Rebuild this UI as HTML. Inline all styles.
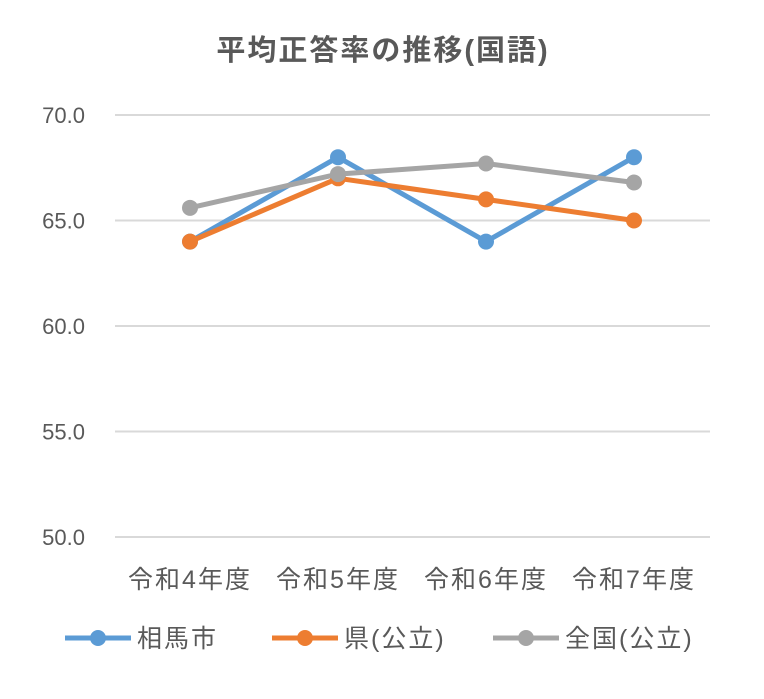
<!DOCTYPE html>
<html><head><meta charset="utf-8"><style>
body{margin:0;background:#fff;}
svg text{font-family:"Liberation Sans","Noto Sans CJK JP",sans-serif;}
</style></head><body>
<svg id="chart" width="764" height="694" xmlns="http://www.w3.org/2000/svg">
<rect width="764" height="694" fill="#fff"/>
<text x="383" y="60" text-anchor="middle" font-size="29" font-weight="bold" letter-spacing="2" fill="#595959">平均正答率の推移(国語)</text>
<g id="grid"></g><g id="series"></g><g id="legend"></g>
</svg>
<script>
const categories=["令和4年度","令和5年度","令和6年度","令和7年度"];
const ticks=[50,55,60,65,70];
const tickLabels=["50.0","55.0","60.0","65.0","70.0"];
const seriesNames=["相馬市","県(公立)","全国(公立)"];
const soma=[64,68,64,68];
const ken=[64,67,66,65];
const zenkoku=[65.6,67.2,67.7,66.8];
const colors=["#5b9bd5","#ed7d31","#a5a5a5"];
const NS="http://www.w3.org/2000/svg";
const y=v=>537-(v-50)*(537-115)/20;
const x=i=>190+i*148;
function mk(t,a,p){const e=document.createElementNS(NS,t);for(const k in a)e.setAttribute(k,a[k]);p.appendChild(e);return e;}
const grid=document.getElementById('grid');
ticks.forEach((t,i)=>{
 const l=mk('line',{x1:115,x2:710,y1:y(t),y2:y(t),stroke:'#d9d9d9','stroke-width':2},grid);
 
 
 const tx=mk('text',{x:85,y:y(t)+8,'text-anchor':'end','font-size':22,fill:'#595959'},grid);
 tx.textContent=tickLabels[i];
 
 
});
categories.forEach((c,i)=>{
 const tx=mk('text',{x:x(i),y:588,'text-anchor':'middle','font-size':25,'letter-spacing':2,fill:'#595959'},grid);
 tx.textContent=c;
 
 
});
const sg=document.getElementById('series');
[soma,ken,zenkoku].forEach((d,s)=>{
 const g=mk('g',{},sg);
 
 
 mk('polyline',{points:d.map((v,i)=>x(i)+','+y(v)).join(' '),fill:'none',stroke:colors[s],'stroke-width':5,'stroke-linejoin':'round'},g);
 d.forEach((v,i)=>{
  const c=mk('circle',{cx:x(i),cy:y(v),r:8,fill:colors[s]},g);
  
  
 });
});
const lg=document.getElementById('legend');
const lx=[65,272,493];
seriesNames.forEach((n,s)=>{
 const g=mk('g',{},lg);
 
 
 mk('line',{x1:lx[s],x2:lx[s]+66,y1:638,y2:638,stroke:colors[s],'stroke-width':5},g);
 mk('circle',{cx:lx[s]+33,cy:638,r:8,fill:colors[s]},g);
 const t=mk('text',{x:lx[s]+72,y:647,'font-size':25,'letter-spacing':2,fill:'#595959'},g);
 t.textContent=n;
});
</script>
</body></html>
